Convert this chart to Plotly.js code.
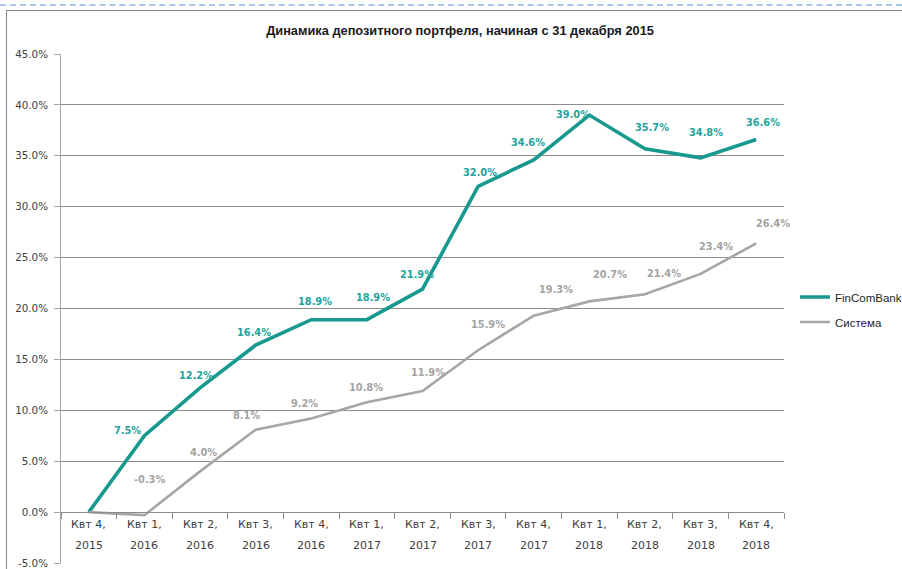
<!DOCTYPE html>
<html>
<head>
<meta charset="utf-8">
<script src="https://cdn.plot.ly/plotly-3.0.1.min.js"></script>
<style>
  html, body { margin: 0; padding: 0; background: #fff; }
  #wrap { position: relative; width: 902px; height: 569px; overflow: hidden; }
  #chart { width: 902px; height: 569px; }
  .ov { position: absolute; pointer-events: none; }
</style>
</head>
<body>
<div id="wrap">
  <div id="chart"></div>
  <div class="ov" style="left:0;top:4px;width:902px;height:0;border-top:2px dashed #a9c6ea;"></div>
  <div class="ov" style="left:6px;top:10px;width:896px;height:0;border-top:1px solid #8a8a8a;"></div>
  <div class="ov" style="left:6px;top:10px;width:0;height:559px;border-left:1px solid #8a8a8a;"></div>
</div>
<script>
const quarterLabels = ["Квт 4,", "Квт 1,", "Квт 2,", "Квт 3,", "Квт 4,", "Квт 1,", "Квт 2,", "Квт 3,", "Квт 4,", "Квт 1,", "Квт 2,", "Квт 3,", "Квт 4,"];
const yearLabels = ["2015", "2016", "2016", "2016", "2016", "2017", "2017", "2017", "2017", "2018", "2018", "2018", "2018"];
const categories = quarterLabels.map((q, i) => q + " " + yearLabels[i]);
const fincomValues = [0.0, 7.5, 12.2, 16.4, 18.9, 18.9, 21.9, 32.0, 34.6, 39.0, 35.7, 34.8, 36.6];
const systemValues = [0.0, -0.3, 4.0, 8.1, 9.2, 10.8, 11.9, 15.9, 19.3, 20.7, 21.4, 23.4, 26.4];
const seriesNames = ["FinComBank", "Система"];
const yTickValues = [-5, 0, 5, 10, 15, 20, 25, 30, 35, 40, 45];

// label placement (style only): [xshift, yshift] per point, null = no label
const fincomShift = [null, [-17, 5], [-4, 12], [-2, 13], [4, 18], [6, 22], [-6, 15], [2, 14], [-6, 17], [-16, 1], [7, 21], [5, 25], [7, 17]];
const systemShift = [null, [5, 36], [3, 19], [-9, 14], [-7, 15], [-1, 15], [5, 18], [10, 26], [22, 26], [21, 27], [19, 21], [15, 27], [17, 20]];

const teal = "#17998f";
const tealText = "#22a49c";
const grey = "#a6a6a6";
const greyText = "#a3a3a3";
const tickFont = { family: "DejaVu Sans, Verdana, sans-serif", size: 11, color: "#404040" };

const traces = [
  { x: categories, y: fincomValues, name: seriesNames[0], type: "scatter", mode: "lines",
    line: { color: teal, width: 3.6 }, legendgroup: "a", hoverinfo: "skip" },
  { x: categories, y: systemValues, name: seriesNames[1], type: "scatter", mode: "lines",
    line: { color: grey, width: 2.6 }, legendgroup: "b", hoverinfo: "skip" }
];

const annotations = [];
function addLabels(values, shifts, color) {
  values.forEach((v, i) => {
    if (!shifts[i]) return;
    annotations.push({
      x: categories[i], y: v, xref: "x", yref: "y", showarrow: false,
      text: "<b>" + v.toFixed(1) + "%</b>",
      xshift: shifts[i][0], yshift: shifts[i][1],
      font: { family: "DejaVu Sans, Verdana, sans-serif", size: 9.8, color: color }
    });
  });
}
addLabels(fincomValues, fincomShift, tealText);
addLabels(systemValues, systemShift, greyText);

// two-line category tick labels
categories.forEach((c, i) => {
  annotations.push({ x: c, y: 0, xref: "x", yref: "y", showarrow: false,
    text: quarterLabels[i], yshift: -12, font: tickFont });
  annotations.push({ x: c, y: 0, xref: "x", yref: "y", showarrow: false,
    text: yearLabels[i], yshift: -33, font: tickFont });
});

const layout = {
  width: 902, height: 569,
  margin: { l: 61, r: 118, t: 54, b: 6, autoexpand: false },
  paper_bgcolor: "#ffffff", plot_bgcolor: "#ffffff",
  showlegend: true,
  title: {
    text: "<b>Динамика депозитного портфеля, начиная с 31 декабря 2015</b>",
    xref: "container", yref: "container", x: 0.51, xanchor: "center", y: 0.947, yanchor: "middle",
    font: { family: "Liberation Sans, Arial, sans-serif", size: 12.8, color: "#1a1a1a" }
  },
  xaxis: {
    type: "category",
    anchor: "free", position: 0.1,
    showgrid: false, zeroline: false,
    showline: true, linecolor: "#8c8c8c", linewidth: 1,
    ticks: "outside", tickson: "boundaries", ticklen: 6, tickcolor: "#8c8c8c",
    showticklabels: false,
    range: [-0.5, 12.5]
  },
  yaxis: {
    range: [-5, 45], tickvals: yTickValues,
    ticktext: yTickValues.map(v => v.toFixed(1) + "%"),
    showgrid: true, gridcolor: "#8c8c8c", gridwidth: 1,
    zeroline: false,
    showline: true, linecolor: "#a6a6a6", linewidth: 1,
    ticks: "outside", ticklen: 6, tickcolor: "#a6a6a6",
    ticklabelstandoff: 4,
    tickfont: { family: "DejaVu Sans, Verdana, sans-serif", size: 10.3, color: "#404040" }
  },
  legend: {
    xref: "container", yref: "container",
    x: 795 / 902, xanchor: "left", y: 1 - 282.5 / 569, yanchor: "top",
    traceorder: "grouped", tracegroupgap: 6,
    font: { family: "Liberation Sans, Arial, sans-serif", size: 11.5, color: "#262626" },
    bgcolor: "rgba(0,0,0,0)"
  },
  annotations: annotations
};

Plotly.newPlot("chart", traces, layout, { staticPlot: true, displayModeBar: false });
</script>
</body>
</html>
